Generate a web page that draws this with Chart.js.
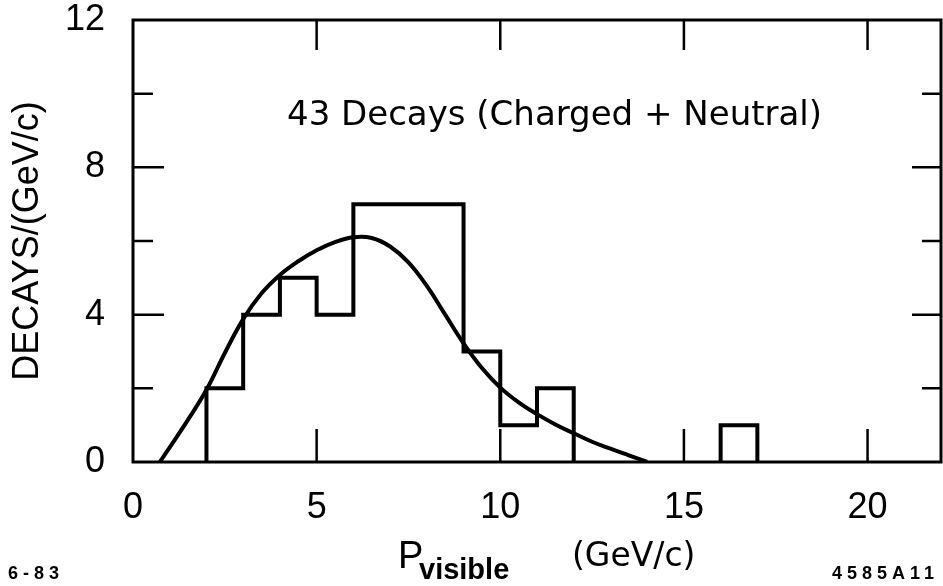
<!DOCTYPE html>
<html>
<head>
<meta charset="utf-8">
<script src="https://cdn.jsdelivr.net/npm/chart.js@4.4.1/dist/chart.umd.min.js"></script>
<style>
  html, body { margin: 0; padding: 0; background: #fff; }
  #wrap { width: 943px; height: 586px; position: relative; }
</style>
</head>
<body>
<div id="wrap"><canvas id="chart"></canvas></div>
<script>
// histogram of visible momentum, 1 GeV/c bins
var binEdges = [2, 3, 4, 5, 6, 7, 8, 9, 10, 11, 12];
var binCounts = [2, 4, 5, 4, 7, 7, 7, 3, 1, 2];
var lateEdges = [16, 17];
var lateCounts = [1];

// fitted curve
var fitX = [0.73, 1, 1.5, 2, 2.5, 3, 3.5, 4, 4.5, 5, 5.5, 6, 6.5, 7, 7.5, 8, 8.5, 9, 9.5, 10, 10.5, 11, 11.5, 12, 12.5, 13, 13.5, 14];
var fitY = [0, 0.4, 1.15, 1.96, 2.96, 3.88, 4.58, 5.08, 5.45, 5.75, 5.97, 6.1, 6.08, 5.85, 5.42, 4.78, 4.0, 3.22, 2.55, 2.02, 1.62, 1.3, 1.02, 0.78, 0.55, 0.36, 0.18, 0];

var xTicks = [0, 5, 10, 15, 20];
var yLabelTicks = [0, 4, 8, 12];
var yMajorMarks = [4, 8];
var yMinorMarks = [2, 6, 10];
var xMarks = [5, 10, 15, 20];

var FONT = "'Liberation Sans', Arial, sans-serif";
var WIDE = "'DejaVu Sans', sans-serif";

function outline(edges, counts) {
  var pts = [{x: edges[0], y: 0}];
  for (var i = 0; i < counts.length; i++) {
    pts.push({x: edges[i], y: counts[i]});
  }
  pts.push({x: edges[edges.length - 1], y: 0});
  return pts;
}

var fitPts = [];
for (var i = 0; i < fitX.length; i++) fitPts.push({x: fitX[i], y: fitY[i]});

// frame, inward tick marks and the loose text
var decor = {
  id: 'decor',
  afterDatasetsDraw: function(chart) {
    var ctx = chart.ctx;
    var a = chart.chartArea;
    var xs = chart.scales.x, ys = chart.scales.y;
    ctx.save();
    ctx.strokeStyle = '#000';
    ctx.lineWidth = 3;
    ctx.strokeRect(a.left, a.top, a.right - a.left, a.bottom - a.top);
    ctx.lineWidth = 2.5;
    ctx.beginPath();
    yMajorMarks.forEach(function(v) {
      var p = ys.getPixelForValue(v);
      ctx.moveTo(a.left, p); ctx.lineTo(a.left + 31, p);
      ctx.moveTo(a.right, p); ctx.lineTo(a.right - 29, p);
    });
    yMinorMarks.forEach(function(v) {
      var p = ys.getPixelForValue(v);
      ctx.moveTo(a.left, p); ctx.lineTo(a.left + 20, p);
      ctx.moveTo(a.right, p); ctx.lineTo(a.right - 19, p);
    });
    xMarks.forEach(function(v) {
      var p = xs.getPixelForValue(v);
      ctx.moveTo(p, a.top); ctx.lineTo(p, a.top + 30);
      ctx.moveTo(p, a.bottom); ctx.lineTo(p, a.bottom - 33);
    });
    ctx.stroke();

    ctx.fillStyle = '#000';
    ctx.textBaseline = 'alphabetic';
    ctx.textAlign = 'left';
    ctx.font = '34px ' + WIDE;
    ctx.fillText('43 Decays (Charged + Neutral)', 287, 125);

    // x axis title with subscript
    ctx.font = '38px ' + FONT;
    ctx.fillText('P', 398, 568);
    ctx.font = 'bold 29px ' + FONT;
    ctx.fillText('visible', 419, 579);
    ctx.font = '33px ' + WIDE;
    ctx.fillText('(GeV/c)', 572, 566);

    ctx.font = 'bold 18px ' + FONT;
    ctx.letterSpacing = '5px';
    ctx.fillText('6-83', 8, 579);
    ctx.fillText('4585A11', 832, 579);
    ctx.restore();
  }
};

new Chart(document.getElementById('chart'), {
  type: 'line',
  data: {
    datasets: [
      {
        label: 'histogram',
        data: outline(binEdges, binCounts),
        stepped: 'before',
        borderColor: '#000',
        borderWidth: 4,
        pointRadius: 0,
        fill: false
      },
      {
        label: 'histogram 16-17',
        data: outline(lateEdges, lateCounts),
        stepped: 'before',
        borderColor: '#000',
        borderWidth: 4,
        pointRadius: 0,
        fill: false
      },
      {
        label: 'fit',
        data: fitPts,
        borderColor: '#000',
        borderWidth: 4,
        pointRadius: 0,
        tension: 0.4,
        fill: false
      }
    ]
  },
  options: {
    responsive: true,
    maintainAspectRatio: false,
    animation: false,
    layout: { padding: { left: 0, top: 20, right: 2, bottom: 0 } },
    plugins: { legend: { display: false }, tooltip: { enabled: false } },
    scales: {
      x: {
        type: 'linear',
        min: 0,
        max: 22,
        grid: { display: false, drawTicks: false },
        border: { display: false },
        afterBuildTicks: function(s) { s.ticks = xTicks.map(function(v) { return {value: v}; }); },
        afterFit: function(s) { s.height = 124; s.paddingLeft = 0; s.paddingRight = 0; },
        ticks: { color: '#000', padding: 24, maxRotation: 0, autoSkip: false, font: { family: FONT, size: 36 } }
      },
      y: {
        min: 0,
        max: 12,
        grid: { display: false, drawTicks: false },
        border: { display: false },
        afterBuildTicks: function(s) { s.ticks = yLabelTicks.map(function(v) { return {value: v}; }); },
        afterFit: function(s) { s.width = 133; s.paddingTop = 0; s.paddingBottom = 0; },
        title: { display: true, text: 'DECAYS/(GeV/c)', color: '#000', font: { family: FONT, size: 36 }, padding: { top: 6, bottom: 0 } },
        ticks: { color: '#000', padding: 28, font: { family: FONT, size: 36 } }
      }
    }
  },
  plugins: [decor]
});
</script>
</body>
</html>
